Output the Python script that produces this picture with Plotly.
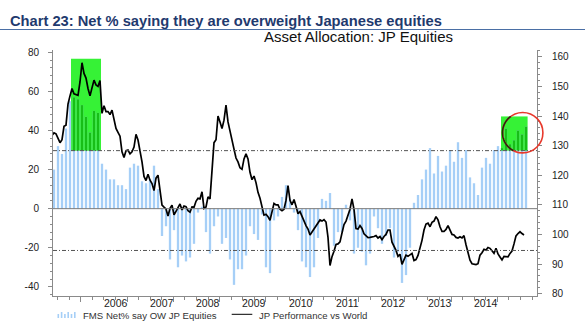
import numpy as np
import plotly.graph_objects as go

# ---------------------------------------------------------------------------
# Data
# ---------------------------------------------------------------------------
# FMS: net % of fund managers overweight Japanese equities, one value per survey
fms_net_ow = [
    20, 32, 28, 41, 55, 57, 56, 53, 47, 39,
    50, 49, 23, 20, 15, 15, 12, 12, 10, 21,
    23, 22, 14, 13, 15, 22, 10, -14, -9, -26,
    -11, -30, -24, -27, -25, -18, -2, 1, -12, -23,
    -9, -4, -18, -15, -26, -39, -31, -31, -24, -9,
    -13, -16, -3, -30, -33, -6, -4, 6, 12, 5,
    -2, -11, -27, -30, -35, -30, -15, 5, 4, 8,
    -19, -12, -12, 2, -6, -23, -20, -22, -29, -23,
    -4, -10, -18, -14, -10, -25, -22, -38, -34, -20,
    3, 7, 15, 20, 31, 18, 27, 19, 22, 30,
    24, 34, 26, 30, 16, 13, 7, 21, 26, 23,
    30, 32, 31, 41, 33, 35, 40, 38, 42,
]

# Japan equity performance vs world (rhs), two readings per survey interval,
# starting half an interval before the first survey
jp_vs_world = [
    133.5, 134.3, 134.0, 132.5, 131.0, 132.0, 136.5, 136.9, 144.0, 146.8,
    149.3, 147.5, 147.2, 147.0, 151.5, 158.0, 154.4, 152.8, 149.3, 146.8,
    149.5, 152.1, 150.5, 150.0, 152.0, 140.9, 143.5, 141.5, 141.5, 140.5,
    142.0, 139.0, 135.8, 134.5, 133.2, 127.9, 126.0, 128.3, 128.5, 127.2,
    127.9, 129.5, 133.8, 131.9, 128.3, 124.5, 119.6, 118.2, 120.3, 118.3,
    117.2, 114.8, 119.0, 120.0, 115.0, 109.9, 109.2, 108.6, 106.2, 108.8,
    109.9, 106.6, 107.8, 109.1, 110.3, 108.3, 109.6, 109.4, 108.0, 107.5,
    109.3, 109.2, 111.2, 112.2, 112.0, 114.4, 108.8, 109.3, 112.7, 112.0,
    121.3, 131.0, 132.0, 140.0, 138.0, 135.8, 138.6, 143.7, 138.0, 134.5,
    132.0, 128.8, 125.8, 124.5, 122.5, 122.0, 125.5, 127.2, 125.5, 121.0,
    118.5, 119.7, 117.5, 114.2, 112.2, 109.0, 106.5, 106.8, 106.0, 104.8,
    107.5, 110.5, 110.0, 110.0, 108.5, 108.0, 108.5, 111.5, 116.5, 111.5,
    110.0, 111.8, 109.5, 107.0, 107.7, 106.0, 104.6, 103.0, 101.8, 99.8,
    100.8, 101.8, 103.0, 103.9, 104.9, 104.5, 105.0, 104.2, 99.0, 89.5,
    92.5, 94.3, 96.6, 96.8, 97.5, 100.5, 103.3, 104.5, 106.5, 108.5,
    112.0, 108.5, 102.0, 101.8, 103.0, 102.0, 100.2, 99.4, 98.9, 99.0,
    99.1, 99.3, 99.6, 98.8, 99.3, 98.2, 99.3, 100.0, 101.5, 101.5,
    97.4, 96.2, 94.6, 92.6, 93.3, 89.9, 91.3, 93.0, 92.6, 93.0,
    93.6, 91.2, 91.5, 92.9, 95.3, 98.0, 101.5, 103.5, 103.8, 102.6,
    104.1, 104.5, 106.0, 104.9, 102.6, 101.0, 101.0, 101.7, 103.0, 101.5,
    100.0, 99.8, 99.0, 98.8, 99.2, 98.8, 99.6, 96.5, 93.8, 91.3,
    90.1, 90.0, 89.8, 90.1, 93.0, 93.8, 95.0, 94.7, 95.6, 95.3,
    94.3, 93.6, 95.3, 93.4, 92.4, 91.4, 92.6, 92.5, 92.4, 93.6,
    94.4, 96.8, 99.5, 100.3, 100.9, 100.3, 99.8,
]

year_labels = ["2006", "2007", "2008", "2009", "2010", "2011", "2012", "2013", "2014"]
left_tick_vals = [-40, -20, 0, 20, 40, 60, 80]
left_tick_text = ["-40", "-20", "0", "20", "40", "60", "80"]
right_tick_vals = [80, 90, 100, 110, 120, 130, 140, 150, 160]

# Reference levels for the net-overweight series
upper_band = 29.7
lower_band = -21.4

# Highlighted survey windows: (start, end, top) in survey index / lhs units
highlights = [(4.25, 11.75, 76.7), (111.75, 118.4, 47.2)]

# ---------------------------------------------------------------------------
# Geometry
# ---------------------------------------------------------------------------
W, H = 585, 330
ML, MR, MT, MB = 53, 48, 50, 34
PW, PH = W - ML - MR, H - MT - MB
X_RANGE = [-0.25, 120.75]
Y_RANGE = [-44.7, 81.2]
Y2_RANGE = [79.2, 162.3]

first_year_idx = 6.675      # survey index where the first year boundary falls
surveys_per_year = 11.575

FONT = "Liberation Sans, Arial, sans-serif"
AXIS_GREY = "#8a8a8a"
BAR_BLUE = "#A6CFF7"
BOX_GREEN = "#36F236"
BAR_GREEN = "#17BE17"


def px_x(px):
    return (px - ML) / PW


def px_y(py):
    return (MT + PH - py) / PH


def data_to_px(x, y):
    fx = (x - X_RANGE[0]) / (X_RANGE[1] - X_RANGE[0])
    fy = (y - Y_RANGE[0]) / (Y_RANGE[1] - Y_RANGE[0])
    return ML + fx * PW, MT + PH - fy * PH


survey = np.arange(len(fms_net_ow))
vals = np.array(fms_net_ow, dtype=float)
line_x = -0.5 + 0.5 * np.arange(len(jp_vs_world))

# Bar segments inside the highlighted windows are shown in a darker green
in_box = np.zeros(len(vals), dtype=bool)
for x0, x1, _ in highlights:
    in_box |= (survey >= x0) & (survey <= x1)
hi_mask = in_box & (vals > upper_band)

fig = go.Figure()
fig.add_trace(go.Bar(
    x=survey, y=vals, width=0.58, marker=dict(color=BAR_BLUE, line=dict(width=0)),
    name="FMS Net% say OW JP Equities", yaxis="y",
))
fig.add_trace(go.Bar(
    x=survey[hi_mask], y=vals[hi_mask] - upper_band, base=upper_band, width=0.58,
    marker=dict(color=BAR_GREEN, line=dict(width=0)), yaxis="y", showlegend=False,
))
fig.add_trace(go.Scatter(
    x=line_x, y=jp_vs_world, mode="lines", line=dict(color="black", width=1.7),
    name="JP Performance vs World", yaxis="y2",
))

shapes = []
for x0, x1, top in highlights:
    shapes.append(dict(type="rect", xref="x", yref="y", x0=x0, x1=x1, y0=upper_band, y1=top,
                       fillcolor=BOX_GREEN, line=dict(width=0), layer="below"))
shapes.append(dict(type="line", xref="paper", yref="y", x0=0, x1=1, y0=0, y1=0,
                   line=dict(color="#7a7a7a", width=1), layer="above"))
for lvl in (upper_band, lower_band):
    shapes.append(dict(type="line", xref="paper", yref="y", x0=0, x1=1, y0=lvl, y1=lvl,
                       line=dict(color="#555555", width=1, dash="4px,2px,1px,2px"), layer="above"))

# Circle around the latest readings: red, darker where it crosses the green window
cx, cy, rad = 522.7, 132.7, 20.2
shapes.append(dict(type="circle", xref="paper", yref="paper",
                   x0=px_x(cx - rad), x1=px_x(cx + rad), y0=px_y(cy + rad), y1=px_y(cy - rad),
                   line=dict(color="#E8392C", width=1.6), layer="above"))
bx0, by_top = data_to_px(highlights[1][0], highlights[1][2])
bx1, by_bot = data_to_px(highlights[1][1], upper_band)
theta = np.linspace(0, 2 * np.pi, 721)
ax_ = cx + rad * np.cos(theta)
ay_ = cy - rad * np.sin(theta)
inside = (ax_ >= bx0) & (ax_ <= bx1) & (ay_ >= by_top) & (ay_ <= by_bot)
idx = np.where(inside)[0]
if len(idx) > 1:
    path = "M " + " L ".join(f"{px_x(ax_[i]):.5f},{px_y(ay_[i]):.5f}" for i in idx)
    shapes.append(dict(type="path", xref="paper", yref="paper", path=path,
                       line=dict(color="#2a2a10", width=1.6), layer="above"))

# Title rule
shapes.append(dict(type="line", xref="paper", yref="paper", x0=px_x(0), x1=px_x(W),
                   y0=px_y(29.5), y1=px_y(29.5), line=dict(color="#4A6FA5", width=1)))

# Legend keys
for k, hgt in enumerate([4, 6, 4, 6, 4, 6]):
    xk = 57.5 + k * 3.3
    shapes.append(dict(type="rect", xref="paper", yref="paper",
                       x0=px_x(xk), x1=px_x(xk + 1.6), y0=px_y(318), y1=px_y(318 - hgt),
                       fillcolor=BAR_BLUE, line=dict(width=0)))
shapes.append(dict(type="line", xref="paper", yref="paper", x0=px_x(231.7), x1=px_x(252.3),
                   y0=px_y(314.3), y1=px_y(314.3), line=dict(color="black", width=1)))

annotations = [
    dict(text="<b>Chart 23: Net % saying they are overweight Japanese equities</b>",
         xref="paper", yref="paper", x=px_x(8), y=px_y(20.5), xanchor="left", yanchor="middle",
         showarrow=False, font=dict(family="Liberation Sans Narrow, Arial Narrow, Liberation Sans, Arial",
                                    size=14.7, color="#1F3A6E")),
    dict(text="Asset Allocation: JP Equities", xref="paper", yref="paper",
         x=px_x(262), y=px_y(36), xanchor="left", yanchor="middle", showarrow=False,
         font=dict(family=FONT, size=15, color="#111111")),
    dict(text="FMS Net% say OW JP Equities", xref="paper", yref="paper",
         x=px_x(81), y=px_y(315.5), xanchor="left", yanchor="middle", showarrow=False,
         font=dict(family=FONT, size=9.6, color="#333333")),
    dict(text="JP Performance vs World", xref="paper", yref="paper",
         x=px_x(257), y=px_y(315), xanchor="left", yanchor="middle", showarrow=False,
         font=dict(family=FONT, size=9.6, color="#333333")),
]
for k, lab in enumerate(year_labels):
    annotations.append(dict(text=lab, xref="x", yref="paper",
                            x=first_year_idx + (k + 1) * surveys_per_year, xshift=2.5,
                            y=px_y(302.5), xanchor="right", yanchor="middle", showarrow=False,
                            font=dict(family=FONT, size=10.5, color="#222222")))

fig.update_layout(
    width=W, height=H, autosize=False,
    margin=dict(l=ML, r=MR, t=MT, b=MB, pad=0),
    paper_bgcolor="white", plot_bgcolor="white",
    showlegend=False, barmode="overlay",
    font=dict(family=FONT, size=10, color="#222222"),
    shapes=shapes, annotations=annotations,
    xaxis=dict(
        range=X_RANGE, showgrid=False, zeroline=False,
        showline=True, linecolor=AXIS_GREY, linewidth=1,
        tickmode="linear", tick0=first_year_idx, dtick=surveys_per_year,
        ticks="outside", ticklen=5, tickcolor=AXIS_GREY, showticklabels=False,
        minor=dict(tickmode="linear", tick0=first_year_idx, dtick=surveys_per_year / 4,
                   ticks="outside", ticklen=3, tickcolor=AXIS_GREY),
    ),
    yaxis=dict(
        range=Y_RANGE, showgrid=False, zeroline=False,
        showline=True, linecolor=AXIS_GREY, linewidth=1,
        tickmode="array", tickvals=left_tick_vals, ticktext=left_tick_text,
        ticks="outside", ticklen=4, tickcolor=AXIS_GREY, ticklabelstandoff=7,
        tickfont=dict(family=FONT, size=10, color="#222222"),
        minor=dict(tickmode="linear", tick0=0, dtick=4, ticks="outside", ticklen=2,
                   tickcolor=AXIS_GREY),
    ),
    yaxis2=dict(
        range=Y2_RANGE, overlaying="y", side="right", showgrid=False, zeroline=False,
        showline=True, linecolor=AXIS_GREY, linewidth=1,
        tickmode="array", tickvals=right_tick_vals,
        ticks="outside", ticklen=4, tickcolor=AXIS_GREY, ticklabelstandoff=8,
        tickfont=dict(family=FONT, size=10, color="#222222"),
        minor=dict(tickmode="linear", tick0=80, dtick=2, ticks="outside", ticklen=2,
                   tickcolor=AXIS_GREY),
    ),
)

fig.write_html("out.html")
